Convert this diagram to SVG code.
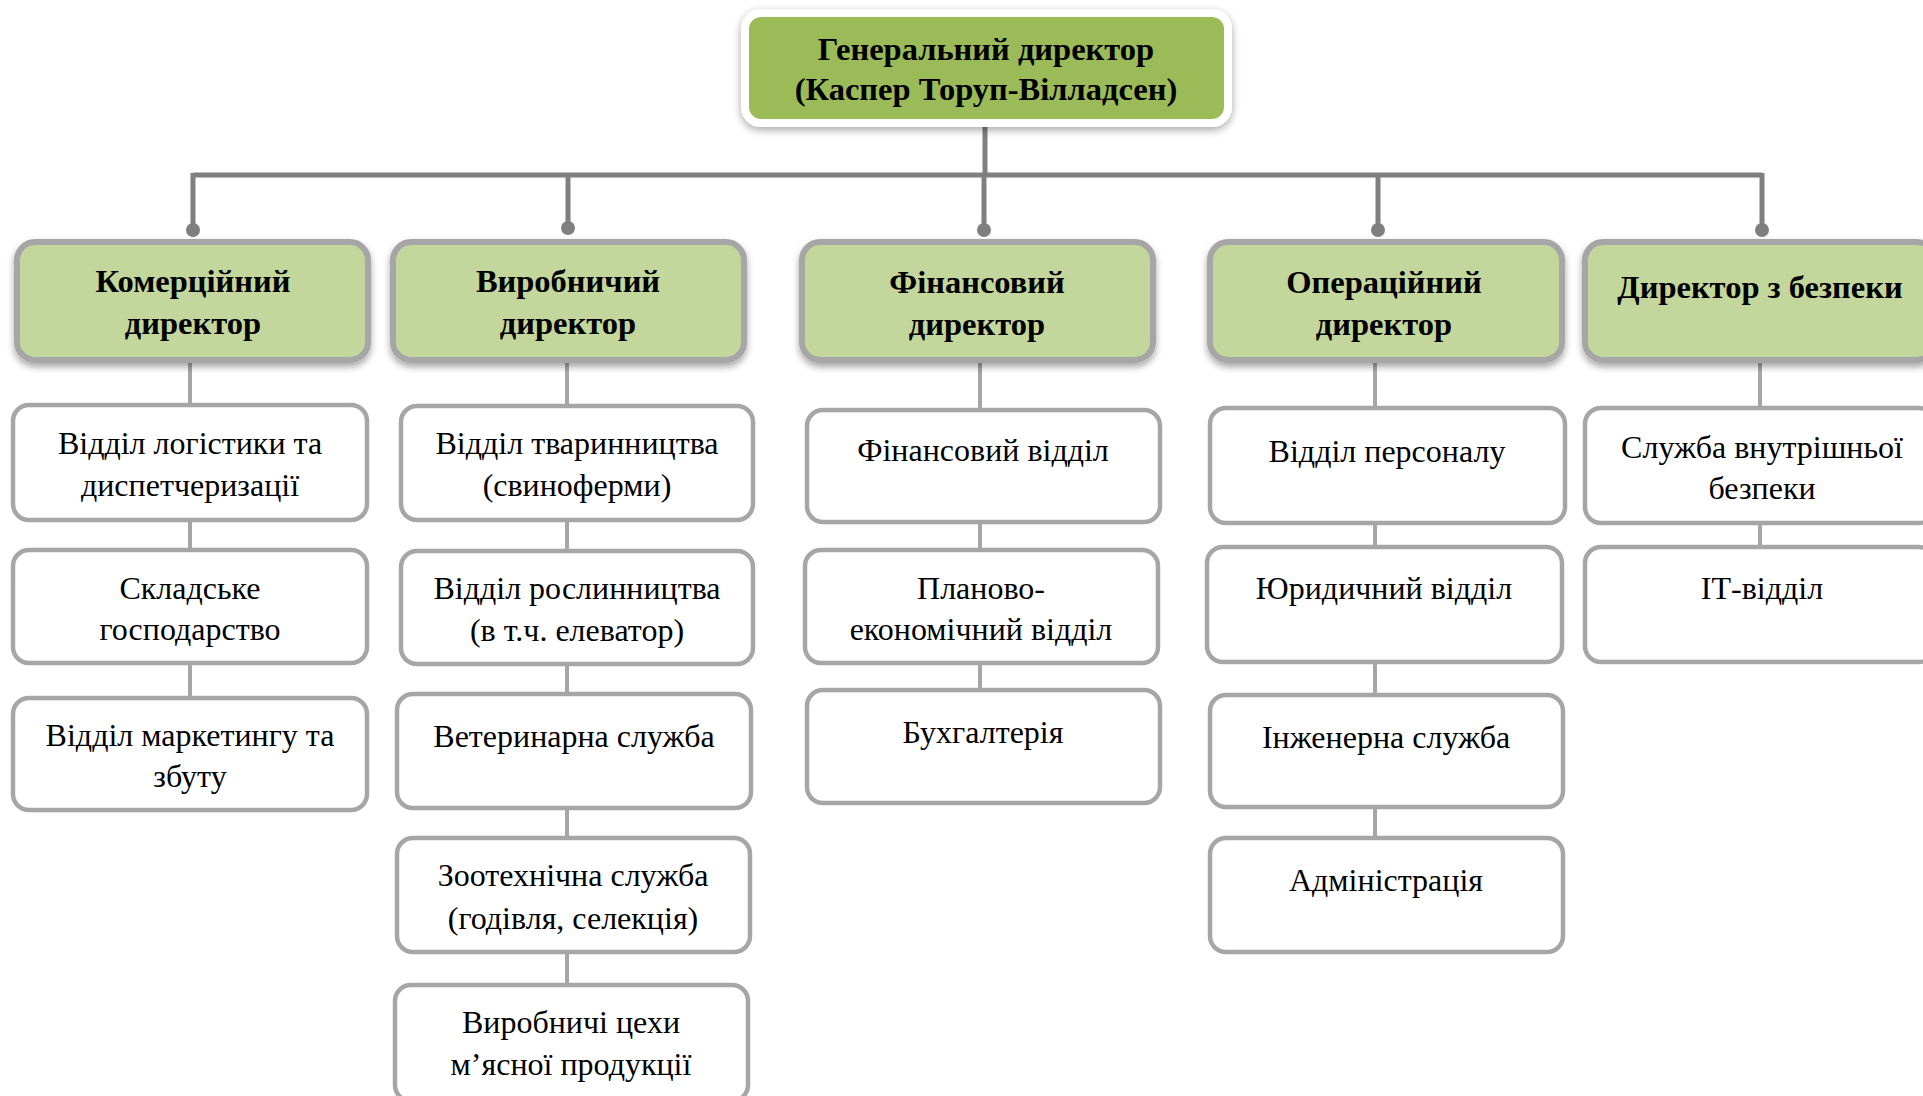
<svg xmlns="http://www.w3.org/2000/svg" width="1923" height="1096" viewBox="0 0 1923 1096">
<defs>
<filter id="sh" x="-10%" y="-20%" width="120%" height="150%">
<feDropShadow dx="0" dy="4" stdDeviation="3.5" flood-color="#000" flood-opacity="0.35"/>
</filter>
<filter id="shTop" x="-10%" y="-30%" width="120%" height="160%">
<feDropShadow dx="0" dy="3" stdDeviation="4" flood-color="#000" flood-opacity="0.35"/>
</filter>
<style>
.top{fill:#9BBB59;stroke:#fff;stroke-width:8}
.dir{fill:#C3D69B;stroke:#A6A6A6;stroke-width:6}
.dep{fill:#fff;stroke:#A6A6A6;stroke-width:4.5}
.main{stroke:#7F7F7F;stroke-width:5;fill:none}
.sub{stroke:#A6A6A6;stroke-width:4;fill:none}
.dot{fill:#7F7F7F}
text{font-family:"Liberation Serif","Times New Roman",serif;fill:#000;text-anchor:middle}
.b{font-weight:bold;font-size:32.5px}
.r{font-size:32px}
</style>
</defs>
<rect width="1923" height="1096" fill="#fff"/>
<g id="connectors">
<line class="main" x1="985" y1="123" x2="985" y2="175"/>
<line class="main" x1="193" y1="175" x2="1762" y2="175"/>
<line class="main" x1="193" y1="173" x2="193" y2="230"/>
<line class="main" x1="568" y1="173" x2="568" y2="228"/>
<line class="main" x1="984" y1="173" x2="984" y2="230"/>
<line class="main" x1="1378" y1="173" x2="1378" y2="230"/>
<line class="main" x1="1762" y1="173" x2="1762" y2="230"/>
<circle class="dot" cx="193" cy="230" r="7"/>
<circle class="dot" cx="568" cy="228" r="7"/>
<circle class="dot" cx="984" cy="230" r="7"/>
<circle class="dot" cx="1378" cy="230" r="7"/>
<circle class="dot" cx="1762" cy="230" r="7"/>
<line class="sub" x1="190" y1="360" x2="190" y2="698"/>
<line class="sub" x1="567" y1="360" x2="567" y2="985"/>
<line class="sub" x1="980" y1="360" x2="980" y2="690"/>
<line class="sub" x1="1375" y1="360" x2="1375" y2="838"/>
<line class="sub" x1="1760" y1="360" x2="1760" y2="547"/>
</g>
<g id="ceo">
<rect class="top" x="745" y="13" width="483" height="110" rx="16" filter="url(#shTop)"/>
<text class="b" x="986" y="60">Генеральний директор</text>
<text class="b" x="986" y="100">(Каспер Торуп-Вілладсен)</text>
</g>
<g id="dir-commercial">
<rect class="dir" x="17" y="242" width="351" height="118" rx="18" filter="url(#sh)"/>
<text class="b" x="193" y="292">Комерційний</text>
<text class="b" x="193" y="334">директор</text>
</g>
<g id="dir-production">
<rect class="dir" x="393" y="242" width="351" height="118" rx="18" filter="url(#sh)"/>
<text class="b" x="568" y="292">Виробничий</text>
<text class="b" x="568" y="334">директор</text>
</g>
<g id="dir-finance">
<rect class="dir" x="802" y="242" width="351" height="118" rx="18" filter="url(#sh)"/>
<text class="b" x="977" y="293">Фінансовий</text>
<text class="b" x="977" y="335">директор</text>
</g>
<g id="dir-operations">
<rect class="dir" x="1210" y="242" width="352" height="118" rx="18" filter="url(#sh)"/>
<text class="b" x="1384" y="293">Операційний</text>
<text class="b" x="1384" y="335">директор</text>
</g>
<g id="dir-security">
<rect class="dir" x="1585" y="242" width="350" height="118" rx="18" filter="url(#sh)"/>
<text class="b" x="1760" y="298">Директор з безпеки</text>
</g>
<g id="logistics">
<rect class="dep" x="13" y="405" width="354" height="115" rx="16"/>
<text class="r" x="190" y="454">Відділ логістики та</text>
<text class="r" x="190" y="496">диспетчеризації</text>
</g>
<g id="warehouse">
<rect class="dep" x="13" y="550" width="354" height="113" rx="16"/>
<text class="r" x="190" y="599">Складське</text>
<text class="r" x="190" y="640">господарство</text>
</g>
<g id="marketing">
<rect class="dep" x="13" y="698" width="354" height="112" rx="16"/>
<text class="r" x="190" y="746">Відділ маркетингу та</text>
<text class="r" x="190" y="787">збуту</text>
</g>
<g id="livestock">
<rect class="dep" x="401" y="406" width="352" height="114" rx="16"/>
<text class="r" x="577" y="454">Відділ тваринництва</text>
<text class="r" x="577" y="496">(свиноферми)</text>
</g>
<g id="crops">
<rect class="dep" x="401" y="551" width="352" height="113" rx="16"/>
<text class="r" x="577" y="599">Відділ рослинництва</text>
<text class="r" x="577" y="641">(в т.ч. елеватор)</text>
</g>
<g id="veterinary">
<rect class="dep" x="397" y="694" width="354" height="114" rx="16"/>
<text class="r" x="574" y="747">Ветеринарна служба</text>
</g>
<g id="zootech">
<rect class="dep" x="397" y="838" width="353" height="114" rx="16"/>
<text class="r" x="573" y="886">Зоотехнічна служба</text>
<text class="r" x="573" y="929">(годівля, селекція)</text>
</g>
<g id="meat">
<rect class="dep" x="395" y="985" width="353" height="116" rx="16"/>
<text class="r" x="571" y="1033">Виробничі цехи</text>
<text class="r" x="571" y="1075">м’ясної продукції</text>
</g>
<g id="finance-dept">
<rect class="dep" x="807" y="410" width="353" height="112" rx="16"/>
<text class="r" x="983" y="461">Фінансовий відділ</text>
</g>
<g id="planning">
<rect class="dep" x="805" y="550" width="353" height="113" rx="16"/>
<text class="r" x="981" y="599">Планово-</text>
<text class="r" x="981" y="640">економічний відділ</text>
</g>
<g id="accounting">
<rect class="dep" x="807" y="690" width="353" height="113" rx="16"/>
<text class="r" x="983" y="743">Бухгалтерія</text>
</g>
<g id="hr">
<rect class="dep" x="1210" y="408" width="355" height="115" rx="16"/>
<text class="r" x="1387" y="462">Відділ персоналу</text>
</g>
<g id="legal">
<rect class="dep" x="1207" y="547" width="355" height="115" rx="16"/>
<text class="r" x="1384" y="599">Юридичний відділ</text>
</g>
<g id="engineering">
<rect class="dep" x="1210" y="695" width="353" height="112" rx="16"/>
<text class="r" x="1386" y="748">Інженерна служба</text>
</g>
<g id="administration">
<rect class="dep" x="1210" y="838" width="353" height="114" rx="16"/>
<text class="r" x="1386" y="891">Адміністрація</text>
</g>
<g id="internal-security">
<rect class="dep" x="1585" y="408" width="350" height="115" rx="16"/>
<text class="r" x="1762" y="458">Служба внутрішньої</text>
<text class="r" x="1762" y="499">безпеки</text>
</g>
<g id="it">
<rect class="dep" x="1585" y="547" width="350" height="115" rx="16"/>
<text class="r" x="1762" y="599">ІТ-відділ</text>
</g>
</svg>
